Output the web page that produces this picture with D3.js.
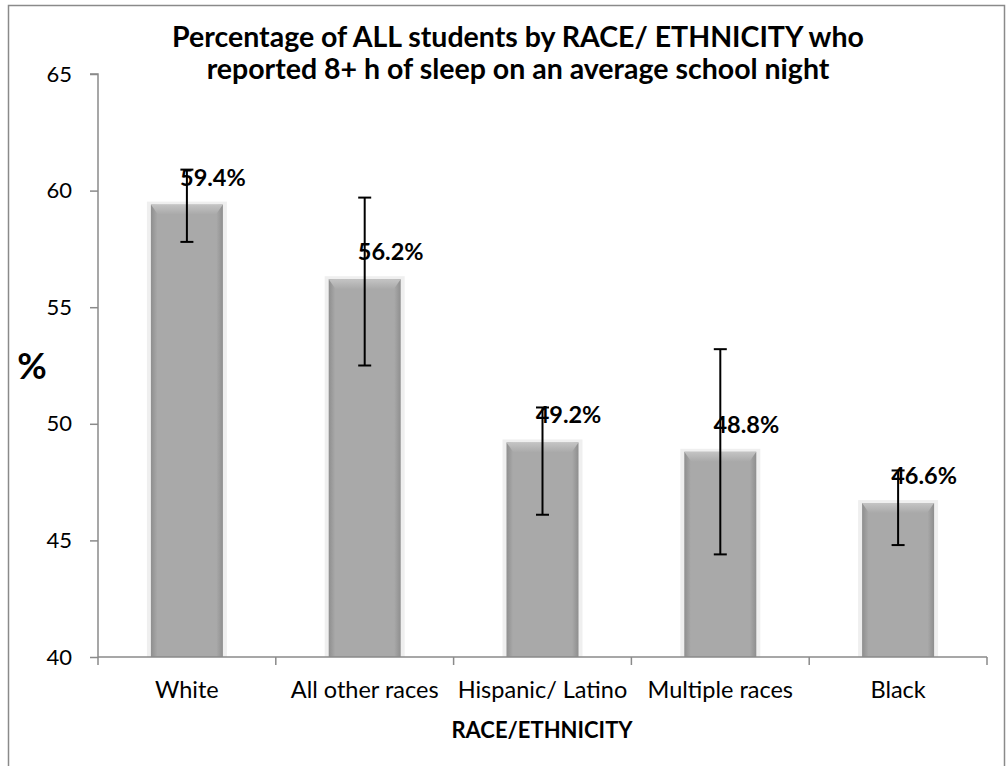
<!DOCTYPE html>
<html>
<head>
<meta charset="utf-8">
<script src="https://cdn.jsdelivr.net/npm/d3@7"></script>
<style>
html,body{margin:0;padding:0;background:#fff;}
svg{display:block;font-family:Lato,"Open Sans",sans-serif;}
</style>
</head>
<body>
<svg id="chart" width="1008" height="766"></svg>
<script>
const categories = ["White", "All other races", "Hispanic/ Latino", "Multiple races", "Black"];
const values = [59.4, 56.2, 49.2, 48.8, 46.6];
const lower = [57.8, 52.5, 46.1, 44.4, 44.8];
const upper = [60.9, 59.7, 50.7, 53.2, 48.0];
const yTicks = [40, 45, 50, 55, 60, 65];
const titleLines = ["Percentage of ALL students by RACE/ ETHNICITY who", "reported 8+ h of sleep on an average school night"];
const xTitle = "RACE/ETHNICITY";
const yTitle = "%";

const svg = d3.select("#chart");
const W = 1008, H = 766;
const m = {left: 98, right: 21, top: 74, bottom: 109};
const x = d3.scaleBand().domain(categories).range([m.left, W - m.right]).paddingInner(0).paddingOuter(0);
const y = d3.scaleLinear().domain([40, 65]).range([H - m.bottom, m.top]);

// outer frame
svg.append("rect").attr("x", 8.5).attr("y", 5.5).attr("width", 996).attr("height", 780)
  .attr("fill", "#fff").attr("stroke", "#8a8a8a").attr("stroke-width", 1.5);

const defs = svg.append("defs");
const hg = defs.append("linearGradient").attr("id", "hg").attr("x1", "0").attr("x2", "1").attr("y1", "0").attr("y2", "0");
[["0%", "#8e8e8e"], ["9%", "#a9a9a9"], ["91%", "#a9a9a9"], ["100%", "#8e8e8e"]].forEach(s => hg.append("stop").attr("offset", s[0]).attr("stop-color", s[1]));
const vg = defs.append("linearGradient").attr("id", "vg").attr("x1", "0").attr("x2", "0").attr("y1", "0").attr("y2", "1");
[["0%", "#c4c4c4"], ["100%", "#a9a9a9"]].forEach(s => vg.append("stop").attr("offset", s[0]).attr("stop-color", s[1]));

const barW = 72;
const g = svg.append("g");
const bars = g.selectAll("g.bar").data(categories).enter().append("g").attr("class", "bar");
bars.append("rect")
  .attr("x", (d) => x(d) + x.bandwidth() / 2 - barW / 2 - 4)
  .attr("y", (d, i) => y(values[i]) - 3)
  .attr("width", barW + 8)
  .attr("height", (d, i) => y(40) - y(values[i]) + 3)
  .attr("fill", "#efefef");
bars.append("rect")
  .attr("x", (d) => x(d) + x.bandwidth() / 2 - barW / 2)
  .attr("y", (d, i) => y(values[i]))
  .attr("width", barW)
  .attr("height", (d, i) => y(40) - y(values[i]))
  .attr("fill", "url(#hg)");
bars.append("path")
  .attr("d", (d, i) => {
    const x0 = x(d) + x.bandwidth() / 2 - barW / 2, x1 = x0 + barW, t = y(values[i]);
    return `M${x0},${t}L${x1},${t}L${x1 - 7},${t + 10}L${x0 + 7},${t + 10}Z`;
  })
  .attr("fill", "url(#vg)");

// axes
const yAxis = svg.append("g").attr("transform", `translate(${m.left},0)`)
  .call(d3.axisLeft(y).tickValues(yTicks).tickSize(8).tickPadding(18).tickFormat(d3.format("d")));
yAxis.select(".domain").attr("stroke", "#8a8a8a").attr("stroke-width", 1.5).attr("d", `M-8,${y(65)}H0V${y(40)}`);
yAxis.selectAll(".tick line").attr("stroke", "#8a8a8a").attr("stroke-width", 1.5);
yAxis.selectAll(".tick text").attr("font-size", 22).attr("fill", "#000").attr("font-family", "Lato, sans-serif");

const xAxisG = svg.append("g").attr("transform", `translate(0,${y(40)})`);
xAxisG.append("line").attr("x1", m.left).attr("x2", W - m.right).attr("stroke", "#8a8a8a").attr("stroke-width", 1.5);
const bounds = categories.map(d => x(d)).concat([x(categories[categories.length - 1]) + x.bandwidth()]);
xAxisG.selectAll("line.tk").data(bounds).enter().append("line").attr("class", "tk")
  .attr("x1", d => d).attr("x2", d => d).attr("y1", 0).attr("y2", 8)
  .attr("stroke", "#8a8a8a").attr("stroke-width", 1.5);
xAxisG.selectAll("text.cat").data(categories).enter().append("text").attr("class", "cat")
  .attr("x", d => x(d) + x.bandwidth() / 2).attr("y", 41)
  .attr("text-anchor", "middle").attr("font-size", 23.5).attr("fill", "#000").text(d => d);

// error bars
const eb = g.selectAll("g.eb").data(categories).enter().append("g").attr("class", "eb");
eb.append("line").attr("x1", d => x(d) + x.bandwidth() / 2).attr("x2", d => x(d) + x.bandwidth() / 2)
  .attr("y1", (d, i) => y(lower[i])).attr("y2", (d, i) => y(upper[i])).attr("stroke", "#000").attr("stroke-width", 2);
[lower, upper].forEach(arr => {
  eb.append("line").attr("x1", d => x(d) + x.bandwidth() / 2 - 6.5).attr("x2", d => x(d) + x.bandwidth() / 2 + 6.5)
    .attr("y1", (d, i) => y(arr[i])).attr("y2", (d, i) => y(arr[i])).attr("stroke", "#000").attr("stroke-width", 2);
});

// value labels
g.selectAll("text.val").data(categories).enter().append("text").attr("class", "val")
  .attr("x", d => x(d) + x.bandwidth() / 2 + 26)
  .attr("y", (d, i) => y(values[i]) - 19)
  .attr("text-anchor", "middle").attr("font-size", 23.5).attr("font-weight", "bold").attr("fill", "#000")
  .text((d, i) => values[i].toFixed(1) + "%");

// titles
svg.selectAll("text.title").data(titleLines).enter().append("text").attr("class", "title")
  .attr("x", 518).attr("y", (d, i) => 47 + i * 32)
  .attr("text-anchor", "middle").attr("font-size", 28.5).attr("font-weight", "bold").attr("fill", "#000").text(d => d);
svg.append("text").attr("x", 542).attr("y", 738).attr("text-anchor", "middle")
  .attr("font-size", 22).attr("font-weight", "bold").attr("fill", "#000").text(xTitle);
svg.append("text").attr("x", 32).attr("y", 379).attr("text-anchor", "middle")
  .attr("font-size", 36).attr("font-weight", "bold").attr("fill", "#000").text(yTitle);
</script>
</body>
</html>
